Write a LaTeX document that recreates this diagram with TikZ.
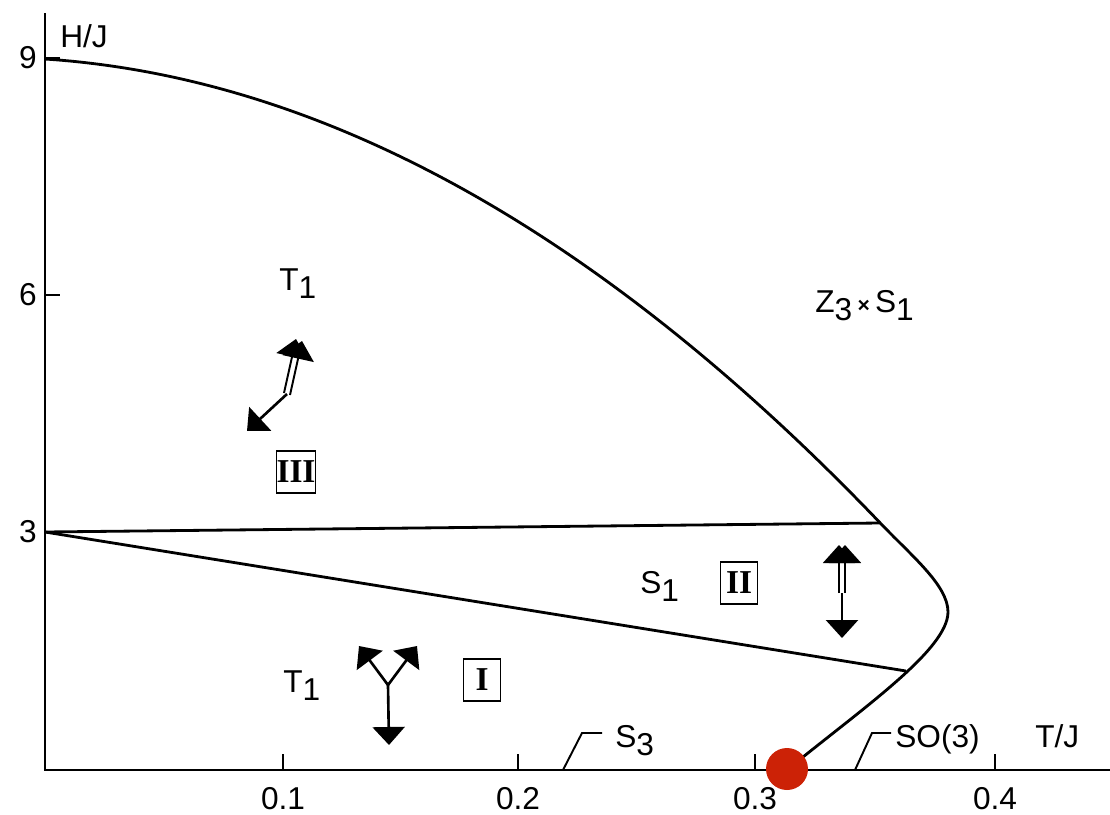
\documentclass[tikz,border=0pt]{standalone}
\usepackage{fontspec}
\setsansfont{Liberation Sans}
\newfontfamily\romfont{Liberation Serif}
\usetikzlibrary{arrows.meta}
\definecolor{dotred}{RGB}{204,34,6}
\newcommand{\lowsub}[1]{\raisebox{-5pt}{#1}}

\begin{document}
\begin{tikzpicture}[x=0.02cm,y=-0.02cm,
  lab/.style={font=\sffamily\fontsize{18}{20}\selectfont,inner sep=0pt,anchor=base west},
  ticklab/.style={font=\sffamily\fontsize{18}{20}\selectfont,inner sep=0pt},
  phase/.style={draw,line width=1.1pt,font=\romfont\bfseries\fontsize{19}{20}\selectfont,
    minimum width=0.74cm,minimum height=0.84cm,inner sep=0pt},
  spin/.style={line width=1.5pt,-{Triangle[length=0.36cm,width=0.64cm]}},
  pair/.style={spin,line width=1.1pt},
  bdry/.style={line width=1.6pt}]
\useasboundingbox (0,0) rectangle (1110,815);

\draw[bdry] (45,13) -- (45,770) -- (1110,770);
\foreach \h/\y in {9/58,6/295,3/532}{
  \draw[bdry] (45,\y) -- (60,\y);
  \node[ticklab,anchor=east] (h\h) at (37,\y) {\h};}
\foreach \t/\x in {1/283,2/518,3/755,4/995}{
  \draw[line width=1.2pt] (\x,770) -- (\x,754);
  \node[ticklab,anchor=base] (t\t) at (\x,809) {0.\t};}
\node[lab] (hj) at (60,47) {H/J};
\node[lab] (tj) at (1035,747) {T/J};

\draw[bdry] plot[domain=0:0.3516,samples=60,smooth] ({45+2375*\x},{770-79*(9-2*\x-41.8*\x*\x)})
  .. controls (911,555.5) and (948,585) .. (948,612)
  .. controls (948,650) and (860,710) .. (787,770);
\draw[bdry] (45,532) -- (880,523);
\draw[bdry] (45,532) -- (906,671);

\draw[line width=1.1pt] (563,770) -- (582,733) -- (602,733);
\draw[line width=1.1pt] (855,770) -- (872,733) -- (891,733);
\node[lab] (s3) at (615,747) {S\lowsub{3}};
\node[lab] (so3) at (895,747) {SO(3)};

\node[lab] (tup) at (279,290) {T\lowsub{1}};
\node[lab] (tlow) at (283,692) {T\lowsub{1}};
\node[lab] (s1) at (640,593) {S\lowsub{1}};
\node[lab] (z3s1) at (815,312) {Z\lowsub{3}\,{\fontsize{12}{12}\selectfont\bfseries ×}\,S\lowsub{1}};

\node[phase] (p3) at (296,472) {III};
\node[phase] (p2) at (739,583) {II};
\node[phase] (p1) at (482,680) {I};

\draw[spin] (287,394) -- (247,431);
\draw[pair] (284,393) -- (296,339);
\draw[pair] (290,395) -- (302,341);

\draw[spin] (842,593) -- (842,638);
\draw[pair] (839,593) -- (839,545);
\draw[pair] (845,593) -- (845,545);

\draw[spin] (388,685) -- (389,745);
\draw[spin] (388,685) -- (359,646);
\draw[spin] (388,685) -- (417,646);

\fill[dotred] (787,769) circle[radius=0.42cm];
\end{tikzpicture}
\end{document}
